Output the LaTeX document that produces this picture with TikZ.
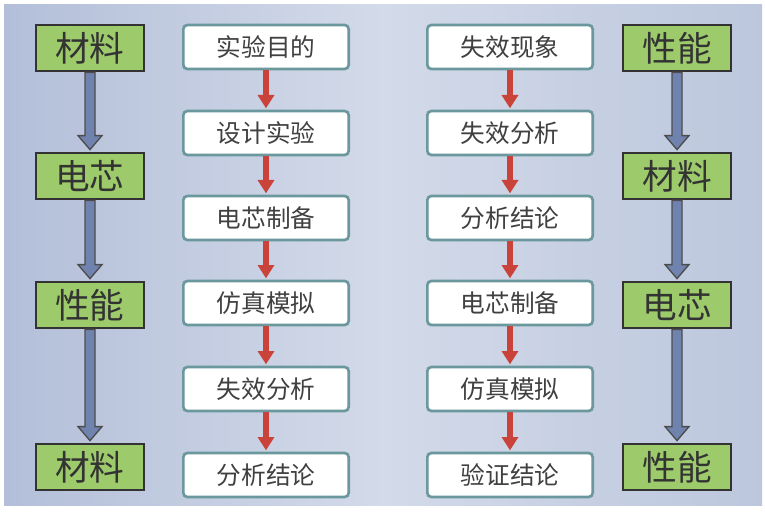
\documentclass[tikz,border=0pt]{standalone}
\usepackage{fontspec}
\usetikzlibrary{arrows.meta,calc}
\newfontfamily\cjk{Noto Sans CJK SC}

\definecolor{panelL}{HTML}{B3BFD9}
\definecolor{panelM}{HTML}{D3DAE9}
\definecolor{panelR}{HTML}{BCC7DD}
\definecolor{leaf}{HTML}{9DCB6B}
\definecolor{steel}{HTML}{6F83AE}
\definecolor{teal}{HTML}{6A989C}
\definecolor{rust}{HTML}{C9433B}

\tikzset{
  stage/.style={draw=black!80, line width=1.6pt, fill=leaf, minimum width=81pt,
    minimum height=35pt, inner sep=0pt, font=\cjk\fontsize{26}{26}\selectfont, text=black!80},
  work/.style={draw=teal, line width=2pt, fill=white, rounded corners=3pt,
    minimum width=124pt, minimum height=33pt, inner sep=0pt,
    font=\cjk\fontsize{18.5}{18.5}\selectfont, text=black!75},
  bigarr/.style={draw=black!70, line width=1pt, fill=steel},
  redarr/.style={draw=rust, line width=4pt, -{Triangle[width=12pt,length=10pt]}, shorten >=1pt}
}

% hollow block arrow between two boxes
\newcommand\bigarrow[2]{%
  \draw[bigarr] ($(#1.south)+(-5,0)$) -- ($(#2.north)+(-5,-16)$) -- ($(#2.north)+(-12,-16)$)
    -- ($(#2.north)+(0,-2)$) -- ($(#2.north)+(12,-16)$) -- ($(#2.north)+(5,-16)$)
    -- ($(#1.south)+(5,0)$) -- cycle;}

\begin{document}
\begin{tikzpicture}[x=0.75pt,y=-0.75pt]
	\useasboundingbox (0,0) rectangle (765,528);
	\fill[white] (0,0) rectangle (765,528);
	\shade[left color=panelL, right color=panelM] (4,5) rectangle (383,505);
	\shade[left color=panelM, right color=panelR] (383,5) rectangle (762,505);
	
	% left: material -> cell -> performance -> material
	\node[stage] (m1) at (90,48) {材料};
	\node[stage] (m2) at (90,176) {电芯};
	\node[stage] (m3) at (90,305) {性能};
	\node[stage] (m4) at (90,467) {材料};
	\bigarrow{m1}{m2}
	\bigarrow{m2}{m3}
	\bigarrow{m3}{m4}
	
	% left flow
	\node[work] (a1) at (266,47) {实验目的};
	\node[work] (a2) at (266,133) {设计实验};
	\node[work] (a3) at (266,218) {电芯制备};
	\node[work] (a4) at (266,303) {仿真模拟};
	\node[work] (a5) at (266,389) {失效分析};
	\node[work] (a6) at (266,475) {分析结论};
	\draw[redarr] (a1) -- (a2);
	\draw[redarr] (a2) -- (a3);
	\draw[redarr] (a3) -- (a4);
	\draw[redarr] (a4) -- (a5);
	\draw[redarr] (a5) -- (a6);
	
	% right flow
	\node[work] (b1) at (510,47) {失效现象};
	\node[work] (b2) at (510,133) {失效分析};
	\node[work] (b3) at (510,218) {分析结论};
	\node[work] (b4) at (510,303) {电芯制备};
	\node[work] (b5) at (510,389) {仿真模拟};
	\node[work] (b6) at (510,475) {验证结论};
	\draw[redarr] (b1) -- (b2);
	\draw[redarr] (b2) -- (b3);
	\draw[redarr] (b3) -- (b4);
	\draw[redarr] (b4) -- (b5);
	\draw[redarr] (b5) -- (b6);
	
	% right: performance -> material -> cell -> performance
	\node[stage] (p1) at (677,48) {性能};
	\node[stage] (p2) at (677,176) {材料};
	\node[stage] (p3) at (677,305) {电芯};
	\node[stage] (p4) at (677,467) {性能};
	\bigarrow{p1}{p2}
	\bigarrow{p2}{p3}
	\bigarrow{p3}{p4}
\end{tikzpicture}
\end{document}
